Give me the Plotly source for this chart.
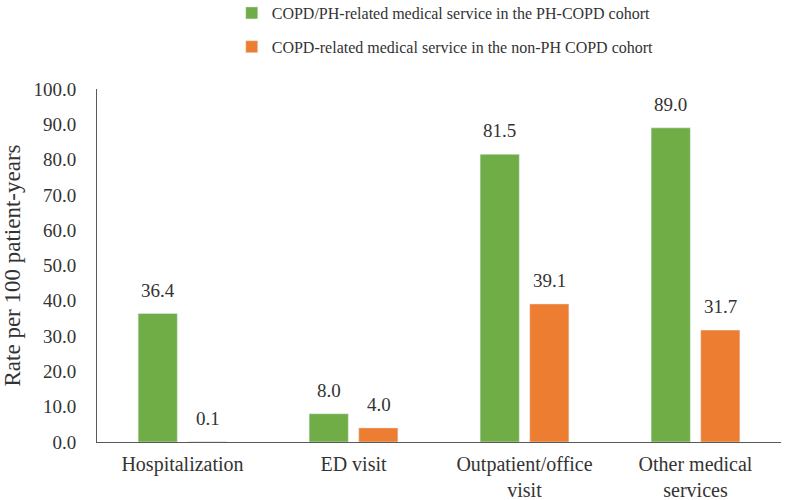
import plotly.graph_objects as go

categories = ["Hospitalization", "ED visit", "Outpatient/office<br>visit", "Other medical<br>services"]
ph_copd = [36.4, 8.0, 81.5, 89.0]
non_ph = [0.1, 4.0, 39.1, 31.7]
series_names = ["COPD/PH-related medical service in the PH-COPD cohort",
                "COPD-related medical service in the non-PH COPD cohort"]
y_ticks = [0, 10, 20, 30, 40, 50, 60, 70, 80, 90, 100]

FONT = "Liberation Serif"
TXT = "#333333"
GREEN = "#70AD47"
ORANGE = "#ED7D31"

fig = go.Figure()
fig.add_trace(go.Bar(x=categories, y=ph_copd, name=series_names[0], marker_color=GREEN,
                     legendgroup="a", hoverinfo="y"))
fig.add_trace(go.Bar(x=categories, y=non_ph, name=series_names[1], marker_color=ORANGE,
                     legendgroup="b", hoverinfo="y"))

# value labels above bars
for vals, shift in ((ph_copd, -25), (non_ph, 25)):
    for c, v in zip(categories, vals):
        fig.add_annotation(x=c, y=v, text=f"{v:.1f}", showarrow=False, xanchor="center",
                           yanchor="bottom", xshift=shift, yshift=11,
                           font=dict(family=FONT, size=19, color=TXT))

fig.update_layout(
    width=786, height=500,
    paper_bgcolor="white", plot_bgcolor="white",
    font=dict(family=FONT, size=19, color=TXT),
    margin=dict(l=97, r=5, t=89, b=58, autoexpand=False),
    barmode="group", bargap=0.42, bargroupgap=0.21,
    showlegend=True,
    legend=dict(x=0.197, y=1.2635, xref="paper", yref="paper", xanchor="left", yanchor="top",
                orientation="v", font=dict(family=FONT, size=16, color=TXT), tracegroupgap=10,
                traceorder="grouped", bgcolor="rgba(0,0,0,0)"),
    yaxis=dict(range=[0, 100], tickvals=y_ticks, tickformat=".1f", showgrid=False,
               showline=True, linecolor="#595959", linewidth=1, ticks="outside", ticklen=16,
               tickcolor="rgba(0,0,0,0)", zeroline=False, automargin=False,
               title=dict(text="Rate per 100 patient-years", font=dict(family=FONT, size=23, color=TXT),
                          standoff=6),
               tickfont=dict(family=FONT, size=19, color=TXT)),
    xaxis=dict(showline=True, linecolor="#595959", linewidth=1, ticks="outside", ticklen=4,
               tickcolor="rgba(0,0,0,0)", showgrid=False, automargin=False,
               tickfont=dict(family=FONT, size=20, color=TXT)),
)

fig.write_html("out.html", config={"displayModeBar": False},
               post_script="document.body.style.margin='0px';document.body.style.padding='0px';")
